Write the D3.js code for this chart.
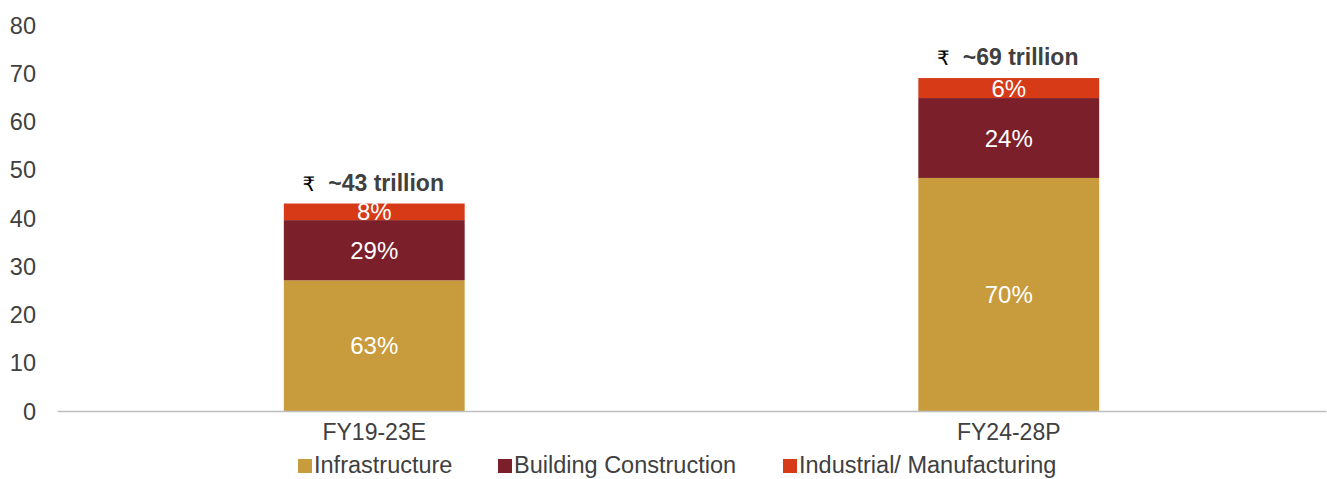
<!DOCTYPE html>
<html>
<head>
<meta charset="utf-8">
<script src="https://cdn.jsdelivr.net/npm/d3@7"></script>
<style>
  html, body { margin: 0; padding: 0; background: #ffffff; }
  svg { display: block; font-family: "Liberation Sans", Arial, "DejaVu Sans", sans-serif; }
</style>
</head>
<body>
<svg id="chart" width="1327" height="479"></svg>
<script>
// Construction spend by segment, ₹ trillion
const categories = ["FY19-23E", "FY24-28P"];
const totals = [43, 69];
const segments = ["Infrastructure", "Building Construction", "Industrial/ Manufacturing"];
const infrastructureShare = [63, 70];
const buildingShare = [29, 24];
const industrialShare = [8, 6];
const totalLabels = ["~43 trillion", "~69 trillion"];
const yTicks = [0, 10, 20, 30, 40, 50, 60, 70, 80];

const colors = ["#C89B3C", "#7B1F2B", "#D63A17"];
const textColor = "#404040";

const svg = d3.select("#chart");
const plot = { left: 57, right: 1326, top: 25, bottom: 411 };

// segment values derived from each period's total and its stated shares
const shares = [infrastructureShare, buildingShare, industrialShare];
const rows = categories.map((c, i) => {
  const r = { category: c, total: totals[i] };
  segments.forEach((s, k) => { r[s] = totals[i] * shares[k][i] / 100; r[s + "_pct"] = shares[k][i]; });
  return r;
});

const x = d3.scaleBand()
  .domain(categories)
  .range([plot.left, plot.right])
  .paddingInner(0.715)
  .paddingOuter(0.3575);

const y = d3.scaleLinear()
  .domain([0, 80])
  .range([plot.bottom, plot.top]);

const series = d3.stack().keys(segments)(rows);

// y axis labels (no axis line)
const yAxis = d3.axisLeft(y).tickValues(yTicks).tickSize(0).tickPadding(0).tickFormat(d3.format("d"));
const yg = svg.append("g").attr("transform", "translate(36,0)").call(yAxis);
yg.select(".domain").remove();
yg.selectAll("text").attr("fill", textColor).style("font-size", "23.5px").attr("dy", "0.35em").attr("x", 0);

// bars
const layer = svg.append("g").selectAll("g")
  .data(series)
  .join("g")
  .attr("fill", (d, i) => colors[i]);

layer.selectAll("rect")
  .data(d => d.map(v => Object.assign(v, { key: d.key })))
  .join("rect")
  .attr("x", d => x(d.data.category))
  .attr("width", x.bandwidth())
  .attr("y", d => y(d[1]))
  .attr("height", d => y(d[0]) - y(d[1]));

// share labels inside segments
layer.selectAll("text")
  .data(d => d)
  .join("text")
  .attr("x", d => x(d.data.category) + x.bandwidth() / 2)
  .attr("y", d => (y(d[0]) + y(d[1])) / 2)
  .attr("dy", "0.36em")
  .attr("text-anchor", "middle")
  .attr("fill", "#ffffff")
  .style("font-size", "24px")
  .text(d => d.data[d.key + "_pct"] + "%");

// x axis baseline and category labels
const xAxis = d3.axisBottom(x).tickSize(0).tickPadding(0);
const xg = svg.append("g").attr("transform", `translate(0,${plot.bottom})`).call(xAxis);
xg.select(".domain").attr("stroke", "#BFBFBF").attr("stroke-width", 1.5);
xg.selectAll("text").attr("fill", textColor).style("font-size", "23px").attr("y", 29).attr("dy", 0);

// total labels above bars
const totalG = svg.append("g").selectAll("text")
  .data(rows)
  .join("text")
  .attr("x", (d, i) => x(d.category) + x.bandwidth() / 2 - 1)
  .attr("y", d => y(d.total) - 13)
  .attr("text-anchor", "middle")
  .style("font-size", "23px");
totalG.append("tspan").attr("fill", "#000000").style("font-family", "'DejaVu Sans', sans-serif").style("font-size", "20px").text("₹");
totalG.append("tspan").attr("dx", "13").attr("fill", textColor).style("font-weight", "bold").text((d, i) => totalLabels[i]);

// legend
const legendX = [298, 498, 783];
const legend = svg.append("g").selectAll("g")
  .data(segments)
  .join("g")
  .attr("transform", (d, i) => `translate(${legendX[i]},465)`);
legend.append("rect").attr("x", 0).attr("y", -6).attr("width", 14).attr("height", 14).attr("fill", (d, i) => colors[i]);
legend.append("text").attr("x", 16).attr("dy", "0.35em").attr("fill", textColor).style("font-size", "23.5px").text(d => d);
</script>
</body>
</html>
